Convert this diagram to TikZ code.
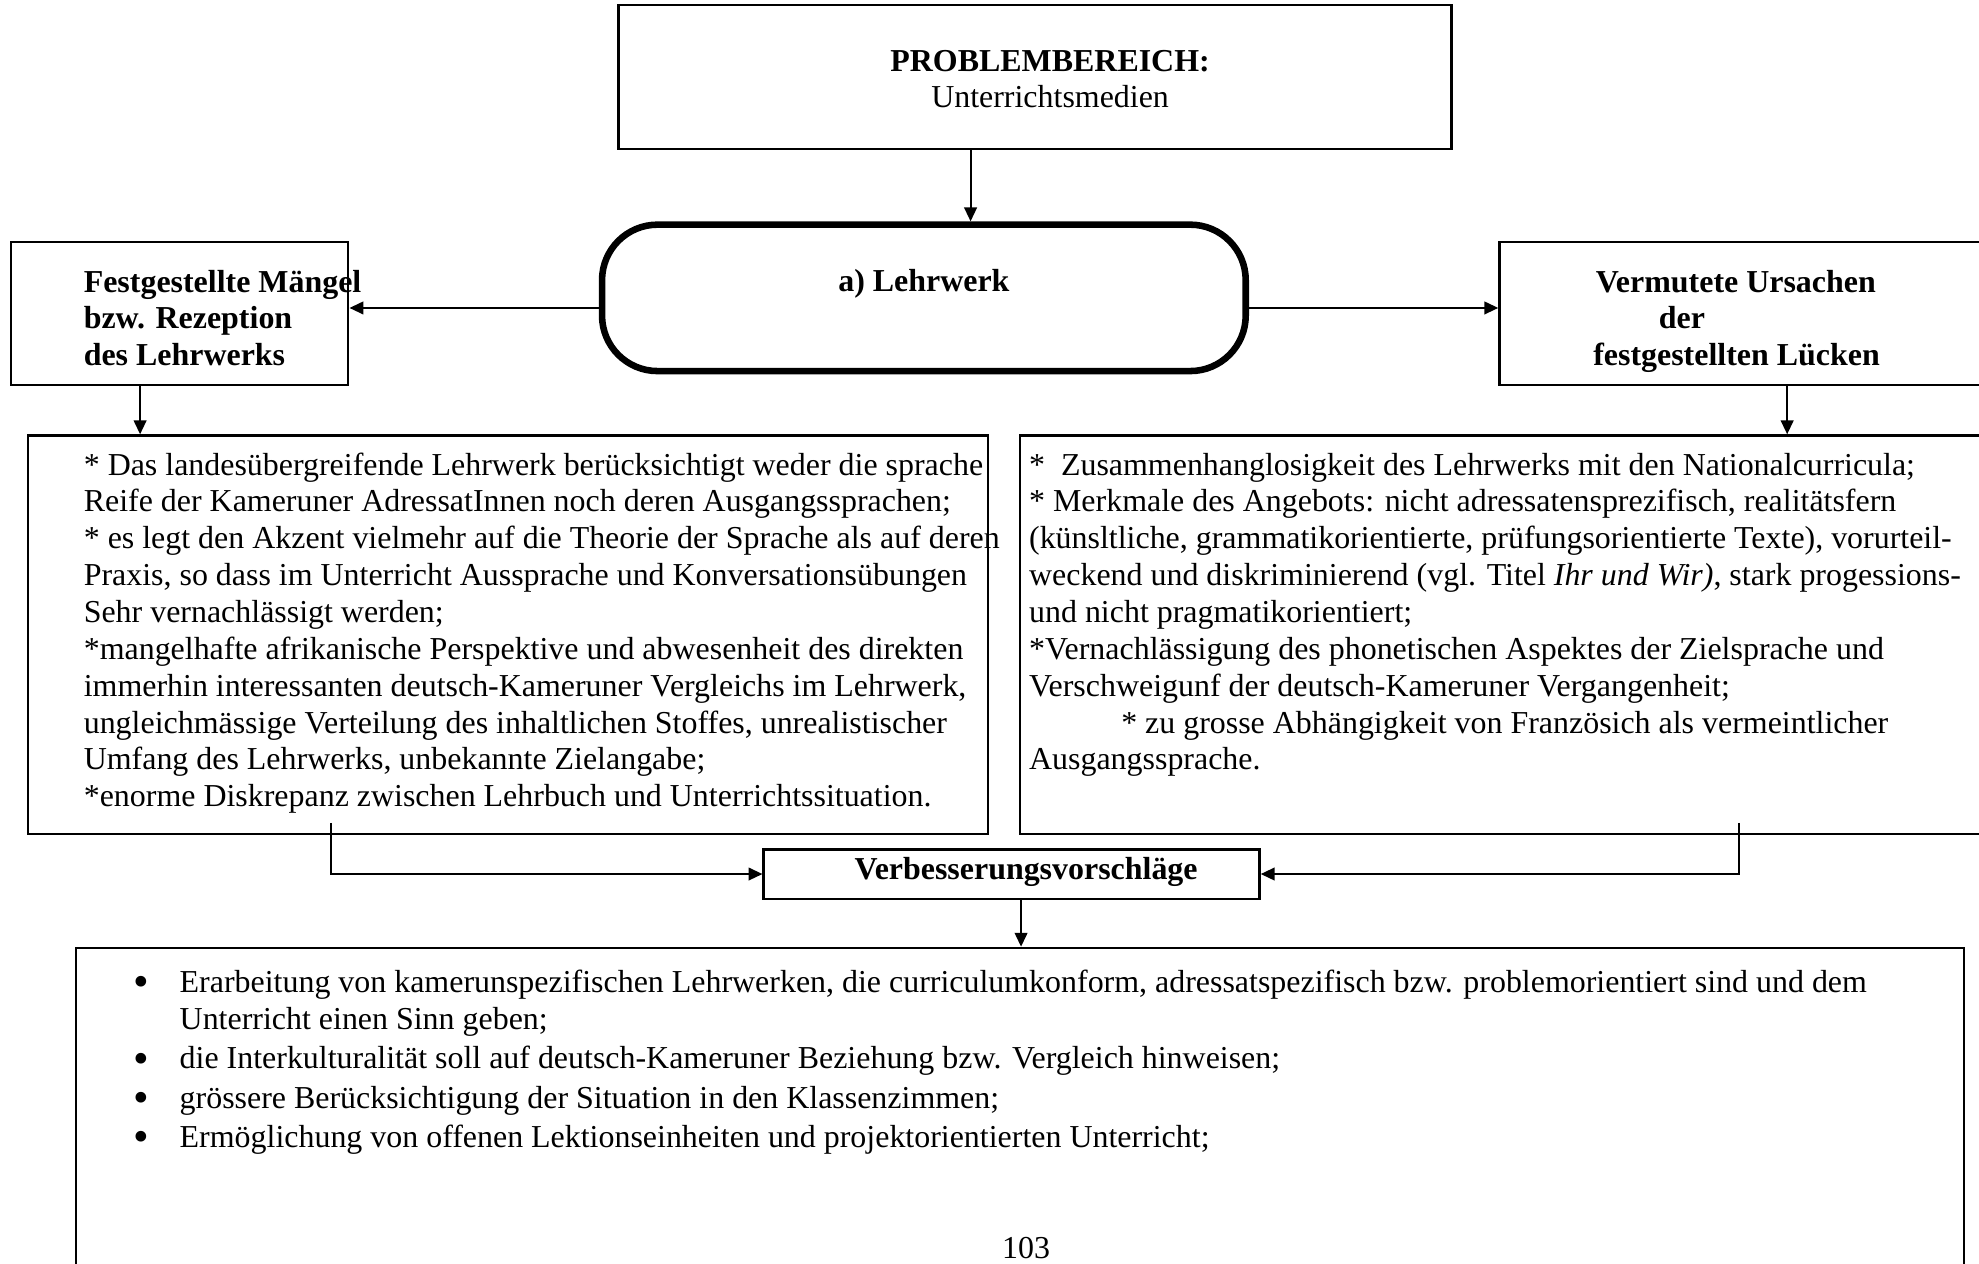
\documentclass[tikz,border=0pt]{standalone}
\usepackage{fontspec}
\setmainfont{Liberation Serif}
\usetikzlibrary{arrows.meta,fit}

\newcommand{\itembullet}{\llap{\raisebox{-1.7pt}{\fontsize{17.7}{17.7}\selectfont •}\hspace{12pt}}}

\begin{document}
\begin{tikzpicture}[x=0.5pt,y=-0.5pt,
  frame/.style={draw, line width=0.9pt, inner sep=0pt},
  wire/.style={line width=0.8pt},
  arr/.style={wire, -{Triangle[length=5.5pt,width=5pt]}},
  txt/.style={inner sep=0pt, font=\fontsize{12.65}{14.6}\selectfont},
  btxt/.style={txt, font=\fontsize{12.65}{14.6}\selectfont\bfseries},
  block/.style={txt, align=left, anchor=north west},
]
\useasboundingbox (0,0) rectangle (1568,1001);
\clip (0,0) rectangle (1568,1001);

% boxes
\node[frame, fit={(490,4) (1150,118)}] (top) {};
\node[frame, line width=2.6pt, rounded corners=22pt, fit={(477,178) (987,294)}] (lw) {};
\node[frame, fit={(9,192) (276,305)}] (lh) {};
\node[frame, fit={(1188,192) (1620,305)}] (rh) {};
\node[frame, fit={(22,345) (783,661)}] (lb) {};
\node[frame, fit={(808,345) (1620,661)}] (rb) {};
\node[frame, fit={(605,673) (998,712)}] (vb) {};
\node[frame, fit={(60,751) (1556,1030)}] (bot) {};

% headings
\node[btxt, anchor=base] (t1) at (832,57) {PROBLEMBEREICH:};
\node[txt, anchor=base] (t2) at (832,85) {Unterrichtsmedien};
\node[btxt, anchor=base] (t3) at (732,231) {a) Lehrwerk};
\node[btxt, anchor=base] (t4) at (813,697) {Verbesserungsvorschläge};
\node[txt, anchor=base] (pg) at (813,997) {103};

\node[block, font=\fontsize{12.65}{14.6}\selectfont\bfseries] (lht) at (66,209)
 {\rule{0pt}{11pt}Festgestellte Mängel\\bzw. Rezeption\\des Lehrwerks};
\node[block, font=\fontsize{12.65}{14.6}\selectfont\bfseries] (rht) at (1262,209)
 {\rule{0pt}{11pt}\hspace*{1pt}Vermutete Ursachen\\\hspace*{26pt}der\\festgestellten Lücken};

% body texts
\node[block] (lbt) at (66,354)
 {\rule{0pt}{11pt}* Das landesübergreifende Lehrwerk berücksichtigt weder die sprache\\
  Reife der Kameruner AdressatInnen noch deren Ausgangssprachen;\\
  * es legt den Akzent vielmehr auf die Theorie der Sprache als auf deren\\
  Praxis, so dass im Unterricht Aussprache und Konversationsübungen\\
  Sehr vernachlässigt werden;\\
  *mangelhafte afrikanische Perspektive und abwesenheit des direkten\\
  immerhin interessanten deutsch-Kameruner Vergleichs im Lehrwerk,\\
  ungleichmässige Verteilung des inhaltlichen Stoffes, unrealistischer\\
  Umfang des Lehrwerks, unbekannte Zielangabe;\\
  *enorme Diskrepanz zwischen Lehrbuch und Unterrichtssituation.};

\node[block] (rbt) at (815,354)
 {\rule{0pt}{11pt}*\ \ Zusammenhanglosigkeit des Lehrwerks mit den Nationalcurricula;\\
  * Merkmale des Angebots: nicht adressatensprezifisch, realitätsfern\\
  (künsltliche, grammatikorientierte, prüfungsorientierte Texte), vorurteil-\\
  weckend und diskriminierend (vgl. Titel \textit{Ihr und Wir)}, stark progessions-\\
  und nicht pragmatikorientiert;\\
  *Vernachlässigung des phonetischen Aspektes der Zielsprache und\\
  Verschweigunf der deutsch-Kameruner Vergangenheit;\\
  \hspace*{36.5pt}* zu grosse Abhängigkeit von Französich als vermeintlicher\\
  Ausgangssprache.};

\node[block] (bt) at (142,764)
 {\rule{0pt}{11pt}\itembullet Erarbeitung von kamerunspezifischen Lehrwerken, die curriculumkonform, adressatspezifisch bzw. problemorientiert sind und dem\\
  Unterricht einen Sinn geben;\\[1pt]
  \itembullet die Interkulturalität soll auf deutsch-Kameruner Beziehung bzw. Vergleich hinweisen;\\[1pt]
  \itembullet grössere Berücksichtigung der Situation in den Klassenzimmen;\\[1pt]
  \itembullet Ermöglichung von offenen Lektionseinheiten und projektorientierten Unterricht;};

% connectors
\coordinate (ax) at (769,0);
\coordinate (ay) at (0,244);
\coordinate (dl) at (111,0);
\coordinate (dr) at (1416,0);
\coordinate (dv) at (809,0);
\coordinate (c1) at (262,652);
\coordinate (c2) at (1378,652);

\draw[arr] (top.south -| ax) -- (lw.north -| ax);
\draw[arr] (lw.west |- ay) -- (lh.east |- ay);
\draw[arr] (lw.east |- ay) -- (rh.west |- ay);
\draw[arr] (lh.south -| dl) -- (lb.north -| dl);
\draw[arr] (rh.south -| dr) -- (rb.north -| dr);
\draw[arr] (c1) |- (vb.west);
\draw[arr] (c2) |- (vb.east);
\draw[arr] (vb.south -| dv) -- (bot.north -| dv);
\end{tikzpicture}
\end{document}
